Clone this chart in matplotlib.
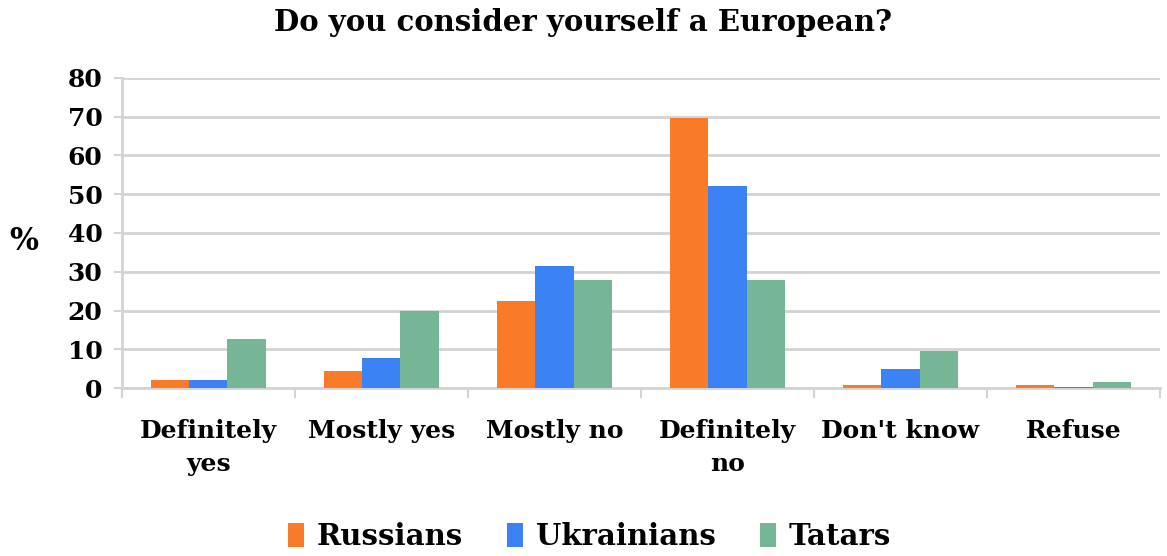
import matplotlib.pyplot as plt
import numpy as np

# ---------------- DATA ----------------
categories = ["Definitely\nyes", "Mostly yes", "Mostly no", "Definitely\nno", "Don't know", "Refuse"]
russians = [2.1, 4.4, 22.5, 69.7, 0.7, 0.7]
ukrainians = [2.1, 7.7, 31.4, 52.0, 5.0, 0.4]
tatars = [12.6, 19.9, 27.8, 27.8, 9.6, 1.5]
series_names = ["Russians", "Ukrainians", "Tatars"]
y_ticks = [0, 10, 20, 30, 40, 50, 60, 70, 80]
# --------------------------------------

COLORS = ["#F97B28", "#3B82F4", "#76B697"]
GRID = "#d3d3d3"
FONT = "DejaVu Serif"

fig = plt.figure(figsize=(11.67, 5.56), dpi=100)
ax = fig.add_axes([0.1045, 0.302, 0.8895, 0.558])

x = np.arange(len(categories))
w = 0.22
for i, vals in enumerate([russians, ukrainians, tatars]):
    ax.bar(x + (i - 1) * w, vals, width=w, color=COLORS[i], label=series_names[i], zorder=3)

ax.set_xlim(-0.5, len(categories) - 0.5)
ax.set_ylim(0, 80)
ax.set_yticks(y_ticks)
ax.set_yticklabels([str(v) for v in y_ticks], fontsize=18, fontweight="bold", family=FONT)
ax.yaxis.grid(True, color=GRID, linewidth=2, zorder=0)

# category labels centered, ticks between groups
ax.set_xticks(x)
ax.set_xticklabels(categories, fontsize=18, fontweight="bold", family=FONT, linespacing=1.5)
ax.tick_params(axis="x", length=0, pad=22)
ax.set_xticks(np.arange(-0.5, len(categories)), minor=True)
ax.tick_params(axis="x", which="minor", length=7, color=GRID, width=1.5)
ax.tick_params(axis="y", length=6, color=GRID, width=1.5, pad=8)

for side in ["top", "right"]:
    ax.spines[side].set_visible(False)
for side in ["left", "bottom"]:
    ax.spines[side].set_color(GRID)
    ax.spines[side].set_linewidth(2)

fig.text(0.008, 0.565, "%", fontsize=22, fontweight="bold", family=FONT, va="center")
fig.text(0.5, 0.96, "Do you consider yourself a European?", fontsize=21,
         fontweight="bold", family=FONT, ha="center", va="center")

leg = fig.legend(loc="center", bbox_to_anchor=(0.505, 0.035), ncol=3, frameon=False,
                 prop={"family": FONT, "weight": "bold", "size": 21},
                 handlelength=0.55, handleheight=0.9, handletextpad=0.45, columnspacing=1.5)

fig.savefig("out.png", dpi=100)
